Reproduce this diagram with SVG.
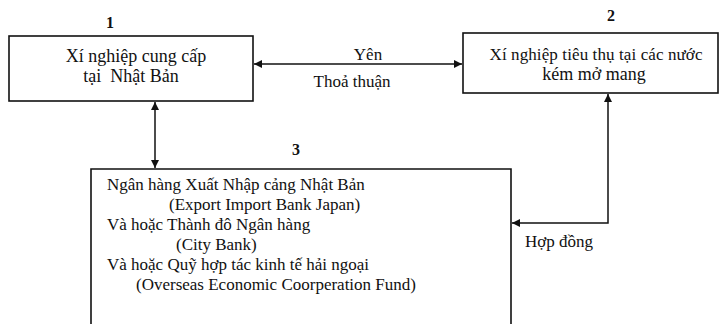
<svg xmlns="http://www.w3.org/2000/svg" width="720" height="324" viewBox="0 0 720 324">
<style>
text{font-family:"Liberation Serif","Times New Roman",serif;font-size:17px;fill:#111}
.big{font-size:18px}
.box{fill:#fff;stroke:#111;stroke-width:1.6}
.con{fill:none;stroke:#111;stroke-width:1.5}
.num{font-size:16px;font-weight:bold}
</style>
<defs>
<marker id="ah" viewBox="0 0 10 10" refX="10" refY="5" markerWidth="10" markerHeight="8" markerUnits="userSpaceOnUse" orient="auto-start-reverse">
<path d="M0,0 L10,5 L0,10 z" fill="#111"/>
</marker>
</defs>
<g id="n1">
<rect class="box" x="9" y="36" width="244" height="65"/>
<text class="num" x="110" y="28" text-anchor="middle">1</text>
<text class="big" x="136" y="62" text-anchor="middle">Xí nghiệp cung cấp</text>
<text class="big" x="131" y="82" text-anchor="middle" xml:space="preserve">tại  Nhật Bản</text>
</g>
<g id="n2">
<rect class="box" x="463" y="33" width="255" height="60"/>
<text class="num" x="611" y="21" text-anchor="middle">2</text>
<text x="596" y="60" text-anchor="middle" textLength="213">Xí nghiệp tiêu thụ tại các nước</text>
<text class="big" x="594" y="80" text-anchor="middle">kém mở mang</text>
</g>
<g id="n3">
<path class="box" d="M91,324 V169 H511 V324" fill="none"/>
<text class="num" x="296" y="155" text-anchor="middle">3</text>
<text x="107" y="190">Ngân hàng Xuất Nhập cảng Nhật Bản</text>
<text x="169" y="210">(Export Import Bank Japan)</text>
<text x="107" y="230">Và hoặc Thành đô Ngân hàng</text>
<text x="176" y="250">(City Bank)</text>
<text x="107" y="270">Và hoặc Quỹ hợp tác kinh tế hải ngoại</text>
<text x="136" y="290">(Overseas Economic Coorperation Fund)</text>
</g>
<g id="connectors">
<path class="con" d="M254,64 H462" marker-start="url(#ah)" marker-end="url(#ah)"/>
<text x="368" y="60" text-anchor="middle">Yên</text>
<text x="352" y="87" text-anchor="middle">Thoả thuận</text>
<path class="con" d="M155,102 V168" marker-start="url(#ah)" marker-end="url(#ah)"/>
<path class="con" d="M608,94 V223 H512" marker-start="url(#ah)" marker-end="url(#ah)"/>
<text x="525" y="247">Hợp đồng</text>
</g>
</svg>
